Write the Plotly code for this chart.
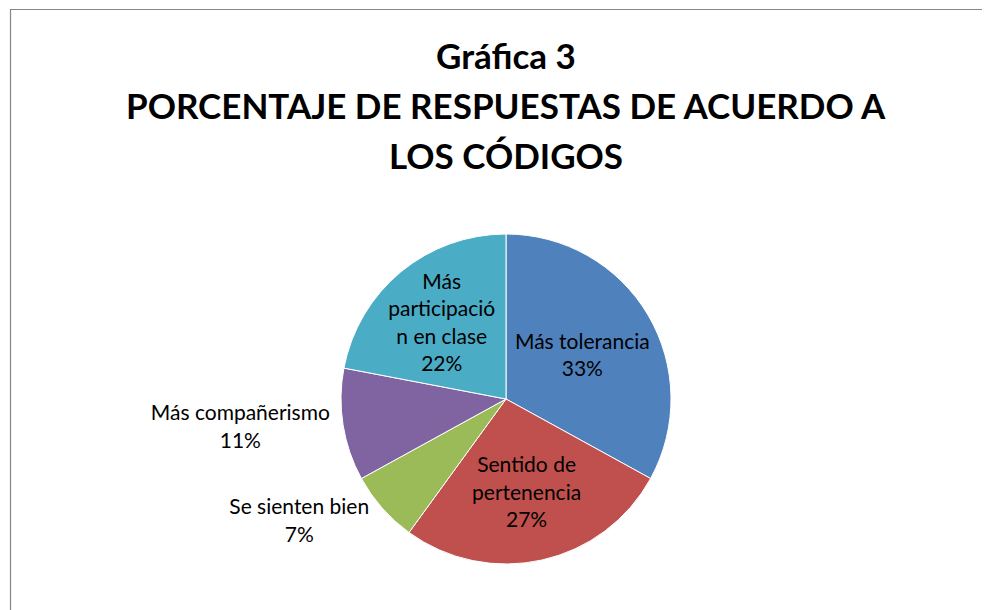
import plotly.graph_objects as go

categories = ["Más tolerancia", "Sentido de pertenencia", "Se sienten bien",
              "Más compañerismo", "Más participación en clase"]
values = [33, 27, 7, 11, 22]
label_text = ["Más tolerancia", "Sentido de<br>pertenencia", "Se sienten bien",
              "Más compañerismo", "Más<br>participació<br>n en clase"]
title_lines = ["Gráfica 3", "PORCENTAJE DE RESPUESTAS DE ACUERDO A", "LOS CÓDIGOS"]
colors = ["#4F81BD", "#C0504D", "#9BBB59", "#8064A2", "#4BACC6"]

W, H = 990, 610
OFF = 8  # page body offset
cx, cy, r = 506 - OFF, 399 - OFF, 165

fig = go.Figure(go.Pie(
    labels=categories,
    values=values,
    text=label_text,
    texttemplate="%{text}<br>%{percent:.0%}",
    textposition=["inside", "inside", "outside", "outside", "inside"],
    insidetextorientation="horizontal",
    sort=False,
    direction="clockwise",
    rotation=0,
    marker=dict(colors=colors, line=dict(color="white", width=1)),
    textfont=dict(family="Lato", size=21, color="#000000"),
    showlegend=False,
    domain=dict(x=[(cx - r) / W, (cx + r) / W],
                y=[(H - cy - r) / H, (H - cy + r) / H]),
    hoverinfo="label+percent",
))

ys = [55, 105, 155]
for t, yy in zip(title_lines, ys):
    fig.add_annotation(text="<b>%s</b>" % t, x=(506 - OFF) / W, y=1 - (yy - OFF) / H,
                       xref="paper", yref="paper", showarrow=False,
                       xanchor="center", yanchor="middle",
                       font=dict(family="Lato", size=35, color="#000000"))

fig.add_shape(type="rect", xref="paper", yref="paper",
              x0=(10.5 - OFF) / W, x1=1.03, y0=-0.03, y1=1 - (9.5 - OFF) / H,
              line=dict(color="#868686", width=1.2), fillcolor="rgba(0,0,0,0)")

fig.update_layout(width=W, height=H, margin=dict(l=0, r=0, t=0, b=0),
                  uniformtext=dict(minsize=21, mode="show"),
                  paper_bgcolor="white", plot_bgcolor="white")
fig.write_html("out.html")
